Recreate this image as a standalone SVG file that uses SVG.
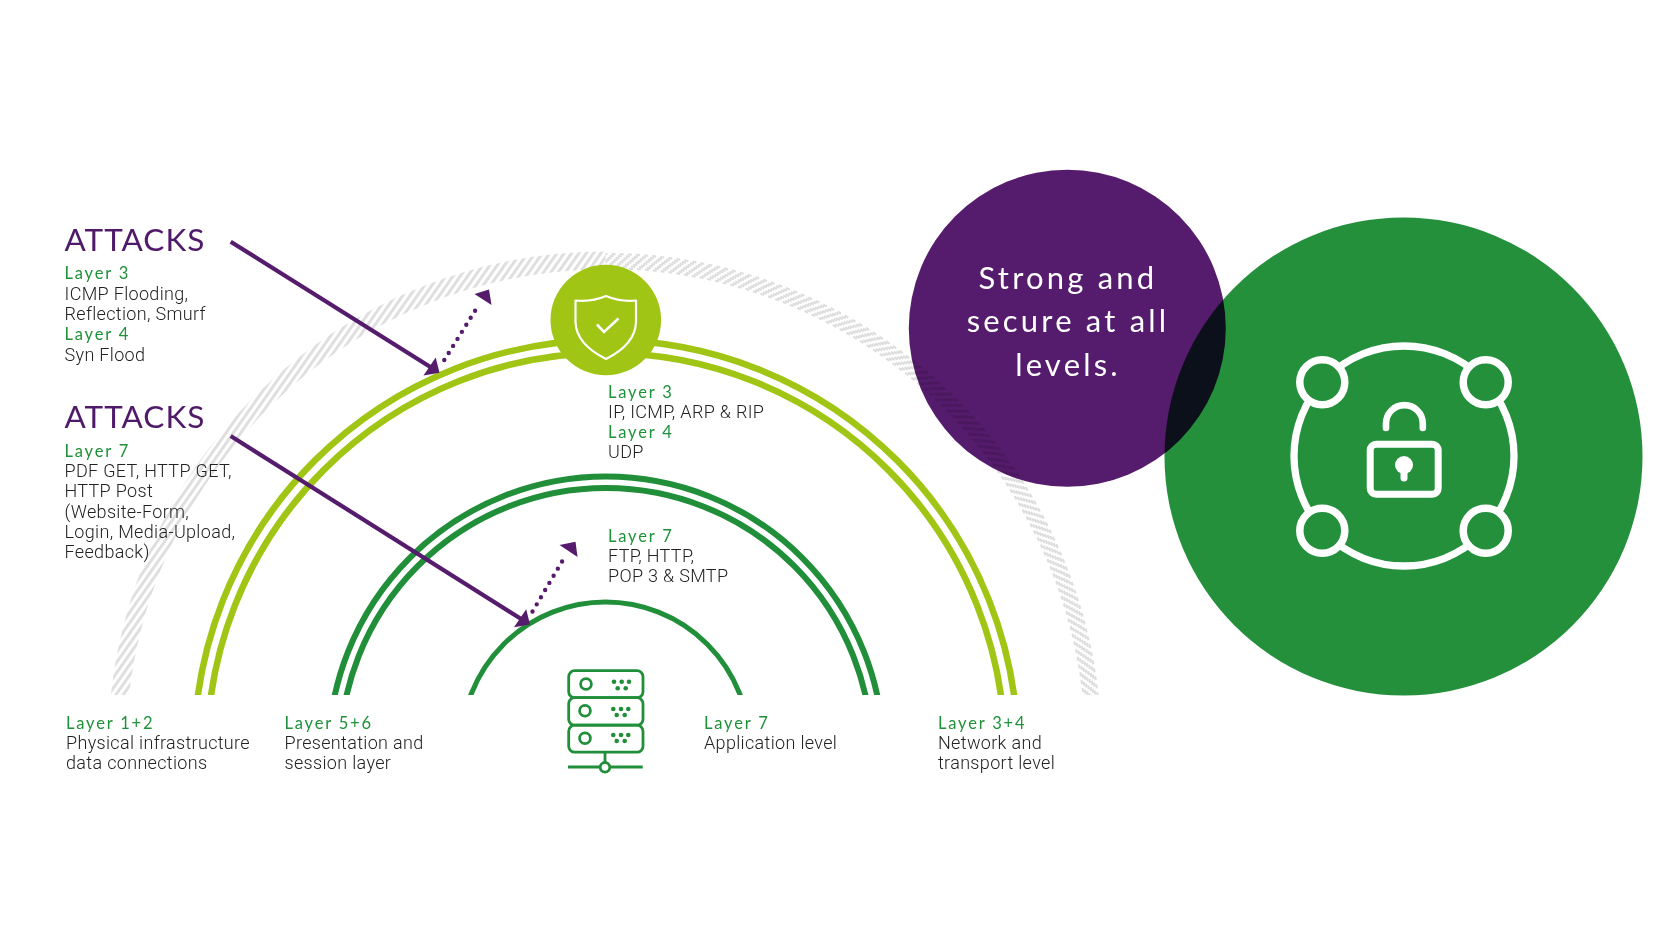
<svg xmlns="http://www.w3.org/2000/svg" width="1680" height="945" viewBox="0 0 1680 945">
<style>
.bg{fill:#fff}
.arc{fill:none}
.lime{stroke:#a0c514;stroke-width:6.5}
.dark{stroke:#218f39;stroke-width:6}
.hr circle{fill:none;stroke:#dedede;stroke-width:2.2;stroke-dasharray:5 5}
.h1{font-family:"Lato","Liberation Sans",sans-serif;font-size:31.5px;letter-spacing:1px;fill:#4f1a69}
.ly{font-family:"Lato","Liberation Sans",sans-serif;font-size:16.5px;letter-spacing:1.8px;fill:#1f9139}
.tx{font-family:"Roboto","Liberation Sans",sans-serif;font-weight:300;font-size:18px;letter-spacing:.33px;fill:#222}
.st{font-family:"Lato","Liberation Sans",sans-serif;font-size:31px;letter-spacing:3.2px;fill:#fff;text-anchor:middle}
.w{fill:none;stroke:#fff}
.g{fill:none;stroke:#218f39;stroke-width:2.8}
.gd{fill:#218f39}
.ar{stroke:#551b6c;stroke-width:4.2;fill:none}
.dt{stroke:#551b6c;stroke-width:4.4;fill:none;stroke-linecap:round;stroke-dasharray:0 8.3}
.ah{fill:#551b6c}
</style>
<defs>
<clipPath id="cl"><rect x="0" y="0" width="605.5" height="695"/></clipPath>
<clipPath id="cr"><rect x="605.5" y="0" width="700" height="695"/></clipPath>
<clipPath id="cb"><rect x="0" y="0" width="1680" height="695"/></clipPath>
<pattern id="hatch" width="6" height="6" patternUnits="userSpaceOnUse" patternTransform="rotate(-55)"><rect width="6" height="2.9" fill="#dedede"/></pattern>
</defs>
<rect class="bg" width="1680" height="945"/>
<g id="hatched-ring">
<circle cx="605.5" cy="749" r="488.5" fill="none" stroke="url(#hatch)" stroke-width="18" clip-path="url(#cl)"/>
<g class="hr" clip-path="url(#cr)">
<circle cx="605.5" cy="749" r="481" pathLength="3830" stroke-dashoffset="17.5"/>
<circle cx="605.5" cy="749" r="483" pathLength="3830" stroke-dashoffset="15"/>
<circle cx="605.5" cy="749" r="485" pathLength="3830" stroke-dashoffset="12.5"/>
<circle cx="605.5" cy="749" r="487" pathLength="3830" stroke-dashoffset="10"/>
<circle cx="605.5" cy="749" r="489" pathLength="3830" stroke-dashoffset="7.5"/>
<circle cx="605.5" cy="749" r="491" pathLength="3830" stroke-dashoffset="5"/>
<circle cx="605.5" cy="749" r="493" pathLength="3830" stroke-dashoffset="2.5"/>
<circle cx="605.5" cy="749" r="495" pathLength="3830" stroke-dashoffset="0"/>
</g>
</g>
<g id="layer-3-4-arcs" clip-path="url(#cb)">
<circle class="arc lime" cx="606" cy="752" r="412"/>
<circle class="arc lime" cx="606" cy="752" r="399"/>
</g>
<g id="layer-5-6-arcs" clip-path="url(#cb)">
<circle class="arc dark" cx="606" cy="754" r="277.5"/>
<circle class="arc dark" cx="606" cy="754" r="266"/>
</g>
<g id="layer-7-arc" clip-path="url(#cb)">
<circle class="arc dark" cx="605.5" cy="746" r="144" style="stroke-width:5"/>
</g>
<g id="shield-node">
<circle cx="605.8" cy="320" r="55.3" fill="#a0c514"/>
<path class="w" stroke-width="2.2" stroke-linejoin="round" d="M606 296Q592 302 575.5 300.5L575.5 322C576 340 590 351 606 359C622 351 635.5 340 636 322L636 300.5Q620 302 606 296Z"/>
<path class="w" stroke-width="2.6" d="M597 324.5L604 332L618.5 318.5"/>
</g>
<g id="server-node">
<rect class="g" x="568.7" y="670.7" width="74.3" height="27" rx="6"/>
<rect class="g" x="568.7" y="697.7" width="74.3" height="27.5" rx="6"/>
<rect class="g" x="568.7" y="725.2" width="74.3" height="27" rx="6"/>
<circle class="g" cx="586" cy="684" r="5.4"/>
<circle class="g" cx="585" cy="710.7" r="5.4"/>
<circle class="g" cx="585" cy="738.3" r="5.4"/>
<g class="gd">
<circle cx="614" cy="681.7" r="2.3"/><circle cx="621.7" cy="681.7" r="2.3"/><circle cx="629" cy="681.7" r="2.3"/><circle cx="617.7" cy="688.3" r="2.3"/><circle cx="625.7" cy="688.3" r="2.3"/>
<circle cx="613.3" cy="709" r="2.3"/><circle cx="621" cy="709" r="2.3"/><circle cx="628.3" cy="709" r="2.3"/><circle cx="616.7" cy="715" r="2.3"/><circle cx="624.7" cy="715" r="2.3"/>
<circle cx="613.3" cy="735" r="2.3"/><circle cx="621" cy="735" r="2.3"/><circle cx="628.3" cy="735" r="2.3"/><circle cx="616.7" cy="741" r="2.3"/><circle cx="624.7" cy="741" r="2.3"/>
</g>
<path class="g" d="M605 752.5V762M568 767H600M610 767H642.7"/>
<circle class="g" cx="605" cy="767.3" r="4.8"/>
</g>
<g id="lock-node">
<circle cx="1403.5" cy="456.5" r="239" fill="#24903c"/>
<circle class="w" cx="1404" cy="456" r="110" stroke-width="7.3"/>
<g class="w" stroke-width="7.5" style="fill:#24903c">
<circle cx="1322.3" cy="382.3" r="22.5"/>
<circle cx="1485.7" cy="382.3" r="22.5"/>
<circle cx="1322.3" cy="530.7" r="22.5"/>
<circle cx="1485.7" cy="530.7" r="22.5"/>
</g>
<rect class="w" x="1370.2" y="444.2" width="68" height="50" rx="6" stroke-width="7"/>
<path class="w" stroke-width="6.6" stroke-linecap="round" d="M1386 428V423.5A18.4 18.4 0 0 1 1422.8 423.5V428"/>
<circle cx="1404" cy="465" r="9" fill="#fff"/>
<path class="w" stroke-width="7" stroke-linecap="round" d="M1404 468V478"/>
</g>
<g id="strong-node" style="mix-blend-mode:multiply">
<circle cx="1067.3" cy="328.3" r="158.5" fill="#551b6c"/>
</g>
<g id="strong-label">
<text class="st" x="1068" y="288.8">Strong and</text>
<text class="st" x="1068" y="332.4">secure at all</text>
<text class="st" x="1068" y="375.5">levels.</text>
</g>
<g id="connectors">
<path class="ar" d="M230.7 241.7L432 368"/>
<path class="ah" d="M439.5 372.8L435.7 357.5L423.5 375.5Z"/>
<path class="ar" d="M230.7 436L522 619.5"/>
<path class="ah" d="M530 624.5L526.2 609.2L514 627.2Z"/>
<path class="dt" d="M444.3 360L479.3 304"/>
<path class="ah" d="M474.5 294L489 289.5L491.5 305Z"/>
<path class="dt" d="M532.5 611.5L564.3 557.7"/>
<path class="ah" d="M559.5 545L575.5 541.8L577.5 557Z"/>
</g>
<g id="attacks-1">
<text class="h1" x="64.5" y="250.7">ATTACKS</text>
<text class="ly" x="64.5" y="279.4">Layer 3</text>
<text class="tx" x="64.5" y="300">ICMP Flooding,</text>
<text class="tx" x="64.5" y="320">Reflection, Smurf</text>
<text class="ly" x="64.5" y="340.4">Layer 4</text>
<text class="tx" x="64.5" y="360.6">Syn Flood</text>
</g>
<g id="attacks-2">
<text class="h1" x="64.5" y="427.7">ATTACKS</text>
<text class="ly" x="64.5" y="457">Layer 7</text>
<text class="tx" x="64.5" y="477.3">PDF GET, HTTP GET,</text>
<text class="tx" x="64.5" y="497.3">HTTP Post</text>
<text class="tx" x="64.5" y="517.8">(Website-Form,</text>
<text class="tx" x="64.5" y="537.8">Login, Media-Upload,</text>
<text class="tx" x="64.5" y="557.8">Feedback)</text>
</g>
<g id="labels-inner">
<text class="ly" x="608" y="397.8">Layer 3</text>
<text class="tx" x="608" y="418">IP, ICMP, ARP &amp; RIP</text>
<text class="ly" x="608" y="438.2">Layer 4</text>
<text class="tx" x="608" y="458.2">UDP</text>
<text class="ly" x="608" y="542">Layer 7</text>
<text class="tx" x="608" y="562.2">FTP, HTTP,</text>
<text class="tx" x="608" y="582.2">POP 3 &amp; SMTP</text>
</g>
<g id="labels-bottom">
<text class="ly" x="66" y="728.8">Layer 1+2</text>
<text class="tx" x="66" y="749">Physical infrastructure</text>
<text class="tx" x="66" y="769.4">data connections</text>
<text class="ly" x="284.5" y="728.8">Layer 5+6</text>
<text class="tx" x="284.5" y="749">Presentation and</text>
<text class="tx" x="284.5" y="769.4">session layer</text>
<text class="ly" x="704" y="728.8">Layer 7</text>
<text class="tx" x="704" y="749">Application level</text>
<text class="ly" x="938" y="728.8">Layer 3+4</text>
<text class="tx" x="938" y="749">Network and</text>
<text class="tx" x="938" y="769.4">transport level</text>
</g>
</svg>
